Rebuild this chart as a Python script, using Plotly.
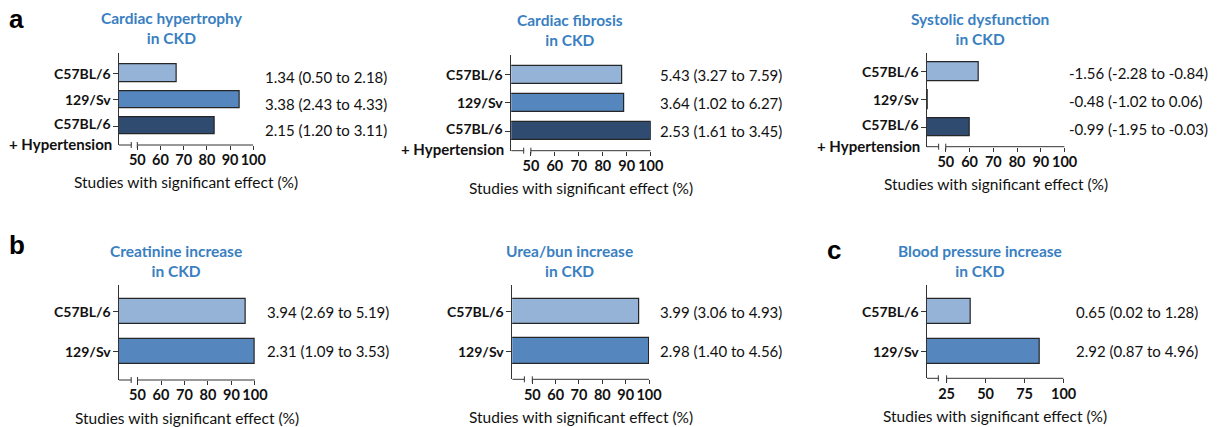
import plotly.graph_objects as go

W, H = 1228, 427

# ---------------- data ----------------
strains_a = ["C57BL/6", "129/Sv", "C57BL/6"]
strains_b = ["C57BL/6", "129/Sv"]
extra_label = "+ Hypertension"

hypertrophy_pct = [67.0, 94.2, 83.2]
hypertrophy_est = [1.34, 3.38, 2.15]
hypertrophy_lo = [0.50, 2.43, 1.20]
hypertrophy_hi = [2.18, 4.33, 3.11]

fibrosis_pct = [88.1, 88.9, 100.0]
fibrosis_est = [5.43, 3.64, 2.53]
fibrosis_lo = [3.27, 1.02, 1.61]
fibrosis_hi = [7.59, 6.27, 3.45]

systolic_pct = [64.0, 42.6, 60.0]
systolic_est = [-1.56, -0.48, -0.99]
systolic_lo = [-2.28, -1.02, -1.95]
systolic_hi = [-0.84, 0.06, -0.03]

creatinine_pct = [96.0, 100.0]
creatinine_est = [3.94, 2.31]
creatinine_lo = [2.69, 1.09]
creatinine_hi = [5.19, 3.53]

urea_pct = [95.7, 100.0]
urea_est = [3.99, 2.98]
urea_lo = [3.06, 1.40]
urea_hi = [4.93, 4.56]

bp_pct = [40.4, 84.6]
bp_est = [0.65, 2.92]
bp_lo = [0.02, 0.87]
bp_hi = [1.28, 4.96]

ticks_main = [50, 60, 70, 80, 90, 100]
ticks_bp = [25, 50, 75, 100]

# ---------------- style ----------------
C_LIGHT, C_MID, C_DARK = "#95b3d7", "#5586bd", "#2f4b70"
EDGE = "#262626"
AXC = "#333333"
TXT = "#111111"
TITLE_BLUE = "#3a7fc1"
FONT = "Lato"
LETTER_FONT = "Liberation Sans"
AXIS_TITLE = "Studies with significant effect (%)"

panels = [
    dict(title="Cardiac hypertrophy<br>in CKD", strains=strains_a, pct=hypertrophy_pct,
         est=hypertrophy_est, lo=hypertrophy_lo, hi=hypertrophy_hi,
         colors=[C_LIGHT, C_MID, C_DARK], xpx=(120, 256), ypx=(53.3, 145),
         xmin=42.0, brk=47.4, ticks=ticks_main, yrange=[2.72, -0.76], bw=0.665,
         text_x=266, text_dy=-4, title_xy=(174.3, 28), letter=("a", 17, 19)),
    dict(title="Cardiac fibrosis<br>in CKD", strains=strains_a, pct=fibrosis_pct,
         est=fibrosis_est, lo=fibrosis_lo, hi=fibrosis_hi,
         colors=[C_LIGHT, C_MID, C_DARK], xpx=(516.7, 657.7), ypx=(55, 150.7),
         xmin=41.8, brk=47.0, ticks=ticks_main, yrange=[2.69, -0.70], bw=0.65,
         text_x=665.5, text_dy=0, title_xy=(575.7, 30.3), letter=None),
    dict(title="Systolic dysfunction<br>in CKD", strains=strains_a, pct=systolic_pct,
         est=systolic_est, lo=systolic_lo, hi=systolic_hi,
         colors=[C_LIGHT, C_MID, C_DARK], xpx=(936.7, 1076), ypx=(53.3, 146.7),
         xmin=42.0, brk=47.0, ticks=ticks_main, yrange=[2.69, -0.67], bw=0.66,
         text_x=1078, text_dy=-1, title_xy=(990.7, 28.8), letter=None),
    dict(title="Creatinine increase<br>in CKD", strains=strains_b, pct=creatinine_pct,
         est=creatinine_est, lo=creatinine_lo, hi=creatinine_hi,
         colors=[C_LIGHT, C_MID], xpx=(120, 257.7), ypx=(285, 380),
         xmin=42.0, brk=47.3, ticks=ticks_main, yrange=[1.72, -0.67], bw=0.645,
         text_x=268, text_dy=0, title_xy=(177.7, 261), letter=("b", 17, 245)),
    dict(title="Urea/bun increase<br>in CKD", strains=strains_b, pct=urea_pct,
         est=urea_est, lo=urea_lo, hi=urea_hi,
         colors=[C_LIGHT, C_MID], xpx=(517.7, 656), ypx=(285, 379.3),
         xmin=41.4, brk=46.6, ticks=ticks_main, yrange=[1.71, -0.67], bw=0.645,
         text_x=665.5, text_dy=0, title_xy=(576, 261), letter=None),
    dict(title="Blood pressure increase<br>in CKD", strains=strains_b, pct=bp_pct,
         est=bp_est, lo=bp_lo, hi=bp_hi,
         colors=[C_LIGHT, C_MID], xpx=(936.7, 1075), ypx=(285, 378.3),
         xmin=12.3, brk=19.7, ticks=ticks_bp, yrange=[1.68, -0.67], bw=0.645,
         text_x=1085, text_dy=0, title_xy=(990.7, 261), letter=("c", 843, 250)),
]


def fmt(v):
    return f"{v:.2f}"


fig = go.Figure()
layout = dict(
    width=W, height=H, margin=dict(l=0, r=0, t=0, b=0),
    paper_bgcolor="white", plot_bgcolor="white", showlegend=False,
    font=dict(family=FONT, size=15, color=TXT),
)
annotations = []
shapes = []

for i, p in enumerate(panels, start=1):
    xa = "x" if i == 1 else f"x{i}"
    ya = "y" if i == 1 else f"y{i}"
    xkey = "xaxis" if i == 1 else f"xaxis{i}"
    ykey = "yaxis" if i == 1 else f"yaxis{i}"
    n = len(p["strains"])
    cats = list(range(n))

    fig.add_trace(go.Bar(
        x=p["pct"], y=cats, orientation="h", width=p["bw"],
        marker=dict(color=p["colors"], line=dict(color=EDGE, width=1.2)),
        xaxis=xa, yaxis=ya, hoverinfo="skip",
    ))

    x0, x1 = p["xpx"]
    top, bot = p["ypx"]
    layout[xkey] = dict(
        domain=[x0 / W, x1 / W], anchor=ya, range=[p["xmin"], 100],
        showline=False, showgrid=False, zeroline=False,
        tickmode="array", tickvals=p["ticks"], ticks="outside", ticklen=4,
        tickwidth=1, tickcolor=AXC, tickangle=0, ticklabelstandoff=-2,
        tickfont=dict(family=FONT, size=14.5, color=TXT, weight="bold"),
        fixedrange=True,
    )
    layout[ykey] = dict(
        domain=[1 - bot / H, 1 - top / H], anchor=xa, range=p["yrange"],
        showline=True, linecolor=AXC, linewidth=1, showgrid=False, zeroline=False,
        tickmode="array", tickvals=cats, ticks="outside", ticklen=5,
        tickwidth=1, tickcolor=AXC, showticklabels=False, fixedrange=True,
    )

    # broken x axis: short lead-in segment, gap, then main segment
    seg_start = p["ticks"][0]
    line = dict(color=AXC, width=1)
    shapes.append(dict(type="line", xref=xa, yref=f"{ya} domain",
                       x0=p["xmin"], x1=p["brk"], y0=0, y1=0, line=line))
    shapes.append(dict(type="line", xref=xa, yref=f"{ya} domain",
                       x0=seg_start, x1=100, y0=0, y1=0, line=line))
    for bx in (p["brk"], seg_start):
        shapes.append(dict(type="line", xref=xa, yref=f"{ya} domain",
                           ysizemode="pixel", yanchor=0, y0=-3, y1=3,
                           x0=bx, x1=bx, line=line))

    # strain labels
    for k, s in enumerate(p["strains"]):
        shift = 3 if (n == 3 and k == 2) else 0
        annotations.append(dict(
            text=s, xref=f"{xa} domain", yref=ya, x=0, y=k, xanchor="right",
            yanchor="middle", xshift=-6, yshift=shift, showarrow=False,
            font=dict(family=FONT, size=14, color=TXT, weight="bold")))
    if n == 3:
        annotations.append(dict(
            text=extra_label, xref=f"{xa} domain", yref=ya, x=0, y=2,
            xanchor="right", yanchor="middle", xshift=-5, yshift=-18,
            showarrow=False,
            font=dict(family=FONT, size=15, color=TXT, weight="bold")))

    # effect size labels
    for k in range(n):
        txt = f"{fmt(p['est'][k])} ({fmt(p['lo'][k])} to {fmt(p['hi'][k])})"
        annotations.append(dict(
            text=txt, xref="paper", yref=ya, x=p["text_x"] / W, y=k,
            xanchor="left", yanchor="middle", yshift=p["text_dy"], showarrow=False,
            font=dict(family=FONT, size=15, color=TXT)))

    # panel title
    tx, ty = p["title_xy"]
    annotations.append(dict(
        text=p["title"], xref="paper", yref="paper", x=tx / W, y=1 - ty / H,
        xanchor="center", yanchor="middle", showarrow=False,
        font=dict(family=FONT, size=15.5, color=TITLE_BLUE, weight="bold")))

    # axis title
    annotations.append(dict(
        text=AXIS_TITLE, xref=f"{xa} domain", yref=f"{ya} domain", x=0.5, y=0,
        xanchor="center", yanchor="middle", yshift=-37.5, showarrow=False,
        font=dict(family=FONT, size=15.5, color=TXT)))

    if p["letter"]:
        letter, lx, ly = p["letter"]
        annotations.append(dict(
            text=letter, xref="paper", yref="paper", x=lx / W, y=1 - ly / H,
            xanchor="center", yanchor="middle", showarrow=False,
            font=dict(family=LETTER_FONT, size=26, color="#000000", weight="bold")))

layout["annotations"] = annotations
layout["shapes"] = shapes
layout["bargap"] = 0
fig.update_layout(**layout)
fig.write_html("out.html")
